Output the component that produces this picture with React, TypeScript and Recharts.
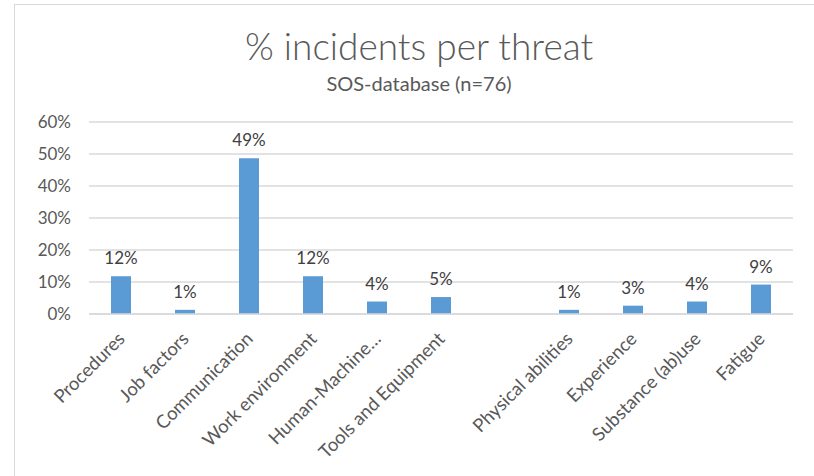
import { Bar, BarChart, CartesianGrid, LabelList, XAxis, YAxis } from "recharts";

const categories = [
  "Procedures",
  "Job factors",
  "Communication",
  "Work environment",
  "Human-Machine…",
  "Tools and Equipment",
  "",
  "Physical abilities",
  "Experience",
  "Substance (ab)use",
  "Fatigue",
];
const shares = [11.8, 1.3, 48.7, 11.8, 3.9, 5.3, null, 1.3, 2.6, 3.9, 9.2];
const yTicks = [0, 10, 20, 30, 40, 50, 60];

const FONT = "Lato, 'Open Sans', sans-serif";
const TEXT = "#595959";

const data = categories.map((name, i) => ({ name, value: shares[i] }));

function RotatedTick({ x, y, payload }: any) {
  const ax = x + 5;
  const ay = y + 18;
  return (
    <text
      x={ax}
      y={ay}
      transform={`rotate(-45, ${ax}, ${ay})`}
      textAnchor="end"
      fill={TEXT}
      fontSize={18.5}
      fontFamily={FONT}
    >
      {payload.value}
    </text>
  );
}

export default function App() {
  return (
    <div
      style={{
        position: "absolute",
        left: 0,
        top: 0,
        width: 814,
        height: 476,
        background: "#fff",
        overflow: "hidden",
      }}
    >
      <div
        style={{
          position: "absolute",
          left: 14,
          top: 4,
          width: 820,
          height: 490,
          border: "1px solid #d9d9d9",
        }}
      />
      <div
        style={{
          position: "absolute",
          left: 0,
          width: 838,
          top: 24,
          textAlign: "center",
          fontFamily: FONT,
          fontWeight: 300,
          color: TEXT,
          fontSize: 37,
          lineHeight: "44px",
        }}
      >
        % incidents per threat
      </div>
      <div
        style={{
          position: "absolute",
          left: 0,
          width: 838,
          top: 71,
          textAlign: "center",
          fontFamily: FONT,
          color: TEXT,
          fontSize: 20,
          lineHeight: "24px",
        }}
      >
        SOS-database (n=76)
      </div>
      <div style={{ position: "absolute", left: 0, top: 0 }}>
        <BarChart
          width={814}
          height={476}
          data={data}
          margin={{ top: 122, right: 21, left: 29, bottom: 22 }}
          barSize={20}
        >
          <CartesianGrid vertical={false} stroke="#d9d9d9" strokeWidth={1.5} />
          <XAxis
            dataKey="name"
            interval={0}
            height={140}
            tickLine={false}
            axisLine={{ stroke: "#d9d9d9", strokeWidth: 1.5 }}
            tick={<RotatedTick />}
          />
          <YAxis
            domain={[0, 60]}
            ticks={yTicks}
            width={60}
            tickLine={false}
            axisLine={false}
            tickFormatter={(v) => `${v}%`}
            tick={{ fill: TEXT, fontSize: 17, fontFamily: FONT }}
            tickMargin={12}
          />
          <Bar dataKey="value" fill="#5b9bd5" isAnimationActive={false}>
            <LabelList
              dataKey="value"
              position="top"
              offset={12}
              formatter={(v: any) => (v == null ? "" : `${Math.round(v)}%`)}
              fill="#404040"
              fontSize={17}
              fontFamily={FONT}
            />
          </Bar>
        </BarChart>
      </div>
    </div>
  );
}
